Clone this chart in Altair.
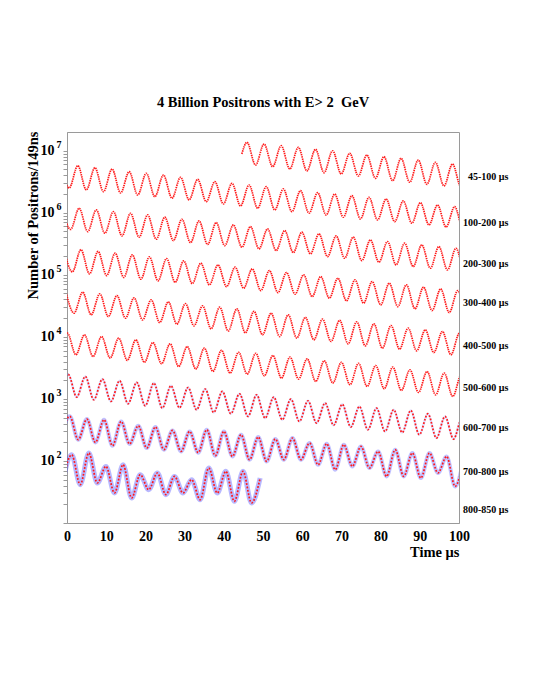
import altair as alt
import pandas as pd

# ---- data -----------------------------------------------------------------
PERIOD = 4.37  # spacing of successive maxima (μs)

row_names = ["45-100 μs", "100-200 μs", "200-300 μs", "300-400 μs", "400-500 μs",
             "500-600 μs", "600-700 μs", "700-800 μs", "800-850 μs"]

# time of the first listed maximum / minimum in each row (μs, folded into 0-100)
first_peak_t = [45.9, -1.62, -1.27, -0.82, -0.37, 0.08, 0.3, 0.7, 1.2]
first_trough_t = [48.1, 0.565, 0.915, 1.37, 1.8, -2.1, -1.9, -1.5, -1.0]

# log10(counts) at successive maxima of each row
peaks_log = [
    [7.135, 7.107, 7.080, 7.054, 7.022, 6.999, 6.958, 6.930, 6.903, 6.877, 6.850, 6.813, 6.785, 6.758],
    [6.785, 6.758, 6.726, 6.705, 6.661, 6.636, 6.608, 6.571, 6.539, 6.500, 6.475, 6.447, 6.420,
     6.383, 6.355, 6.323, 6.300, 6.275, 6.249, 6.222, 6.190, 6.162, 6.125, 6.098, 6.069],
    [6.101, 6.072, 6.045, 6.018, 5.992, 5.965, 5.928, 5.895, 5.868, 5.841, 5.804, 5.776, 5.739,
     5.712, 5.686, 5.659, 5.626, 5.606, 5.562, 5.535, 5.509, 5.482, 5.454, 5.428, 5.401],
    [5.430, 5.404, 5.377, 5.348, 5.321, 5.288, 5.261, 5.224, 5.187, 5.160, 5.123, 5.095, 5.068,
     5.036, 4.999, 4.971, 4.945, 4.918, 4.891, 4.865, 4.838, 4.801, 4.773, 4.746, 4.717],
    [4.749, 4.720, 4.693, 4.665, 4.628, 4.596, 4.564, 4.536, 4.499, 4.478, 4.451, 4.411, 4.382,
     4.355, 4.314, 4.285, 4.266, 4.242, 4.210, 4.182, 4.140, 4.113, 4.086, 4.060, 4.033],
    [4.060, 4.033, 4.005, 3.979, 3.952, 3.909, 3.888, 3.844, 3.818, 3.783, 3.751, 3.735, 3.699,
     3.674, 3.646, 3.614, 3.590, 3.574, 3.538, 3.513, 3.469, 3.442, 3.416, 3.389],
    [3.397, 3.361, 3.319, 3.292, 3.265, 3.255, 3.211, 3.184, 3.158, 3.120, 3.083, 3.066, 3.029,
     2.997, 2.970, 2.933, 2.913, 2.878, 2.852, 2.825, 2.814, 2.761, 2.717, 2.696],
    [2.720, 2.675, 2.664, 2.637, 2.567, 2.547, 2.492, 2.476, 2.503, 2.476, 2.423, 2.386, 2.353,
     2.370, 2.289, 2.278, 2.262, 2.234, 2.154, 2.181, 2.128, 2.128, 2.073, 2.052],
    [2.100, 2.128, 1.912, 1.939, 1.779, 1.806, 1.751, 1.698, 1.886, 1.832, 1.832, 1.725],
]

# log10(counts) at successive minima of each row
troughs_log = [
    [6.769, 6.742, 6.705, 6.673, 6.645, 6.624, 6.592, 6.555, 6.516, 6.491, 6.458, 6.431, 6.407],
    [6.399, 6.367, 6.339, 6.318, 6.286, 6.259, 6.233, 6.206, 6.178, 6.141, 6.109, 6.072, 6.045,
     6.017, 5.992, 5.964, 5.927, 5.900, 5.884, 5.856, 5.831, 5.803, 5.770, 5.731],
    [5.731, 5.696, 5.670, 5.626, 5.605, 5.573, 5.551, 5.518, 5.489, 5.470, 5.444, 5.417, 5.390,
     5.357, 5.337, 5.293, 5.267, 5.229, 5.203, 5.160, 5.132, 5.106, 5.079, 5.055],
    [5.047, 5.015, 4.987, 4.958, 4.929, 4.902, 4.878, 4.858, 4.838, 4.810, 4.784, 4.746, 4.713,
     4.688, 4.649, 4.623, 4.580, 4.543, 4.515, 4.488, 4.451, 4.424, 4.391, 4.371],
    [4.382, 4.355, 4.327, 4.301, 4.274, 4.231, 4.205, 4.177, 4.129, 4.094, 4.065, 4.033, 4.005,
     3.980, 3.952, 3.925, 3.888, 3.855, 3.818, 3.802, 3.775, 3.747, 3.711, 3.686],
    [3.735, 3.711, 3.683, 3.658, 3.622, 3.590, 3.566, 3.522, 3.480, 3.442, 3.416, 3.400, 3.372,
     3.335, 3.319, 3.281, 3.255, 3.228, 3.200, 3.163, 3.136, 3.104, 3.066, 3.039, 3.010],
    [3.050, 3.029, 2.986, 2.959, 2.922, 2.889, 2.852, 2.857, 2.825, 2.782, 2.761, 2.717, 2.691,
     2.664, 2.637, 2.611, 2.575, 2.546, 2.503, 2.475, 2.459, 2.423, 2.369, 2.353, 2.326],
    [2.374, 2.342, 2.299, 2.245, 2.273, 2.208, 2.181, 2.154, 2.133, 2.084, 2.073, 2.020, 1.993,
     2.020, 2.020, 1.939, 1.859, 1.912, 1.886, 1.751, 1.751, 1.725, 1.806, 1.590],
    [1.698, 1.618, 1.645, 1.484, 1.403, 1.537, 1.457, 1.484, 1.376, 1.484, 1.349, 1.323],
]

# first row starts part-way through the window
row0_start_t = 44.6
row0_start_log = 6.946

# rows that carry visible (blue) error bars, with bar size and strength
err_rows = [6, 7, 8]
err_width = [2.5, 4, 5]
err_opacity = [0.18, 0.35, 0.4]

# right-hand labels (log10 position of each)
label_log = [6.576, 5.836, 5.176, 4.548, 3.855, 3.179, 2.535, 1.827, 1.215]

decade_exps = ["2", "3", "4", "5", "6", "7"]
x_ticks = [0, 10, 20, 30, 40, 50, 60, 70, 80, 90, 100]

# ---- build tables -----------------------------------------------------------
recs = []
for r in range(len(row_names)):
    for k, v in enumerate(peaks_log[r]):
        recs.append({"row": r, "t": first_peak_t[r] + k * PERIOD, "n": 10 ** v})
    for k, v in enumerate(troughs_log[r]):
        recs.append({"row": r, "t": first_trough_t[r] + k * PERIOD, "n": 10 ** v})
recs.append({"row": 0, "t": row0_start_t, "n": 10 ** row0_start_log})
df = pd.DataFrame(recs).sort_values(["row", "t"])

err_recs = []
for r, w, o in zip(err_rows, err_width, err_opacity):
    sub = df[df.row == r]
    for _, s in sub.iterrows():
        err_recs.append({"row": r, "t": s.t, "n": s.n, "w": w, "o": o})
df_err = pd.DataFrame(err_recs)

df_lab = pd.DataFrame({"name": row_names, "n": [10 ** v for v in label_log]})
df_exp = pd.DataFrame({"e": decade_exps, "n": [10 ** int(e) for e in decade_exps]})

minor_vals = [m * 10 ** k for k in range(1, 7) for m in range(1, 10)] + [1e7]

FONT = "Liberation Serif"
RED = "#ff1a1a"
BLUE = "#4d4dff"
GRAY = "#9a9a9a"

xscale = alt.Scale(domain=[0, 100], nice=False)
yscale = alt.Scale(type="log", domain=[10, 2.0e7], nice=False)

xaxis = alt.Axis(values=x_ticks, tickSize=0, labelFont=FONT, labelFontSize=14,
                 labelFontWeight="bold", labelPadding=6, labelFlush=False, labelOverlap=False,
                 labelColor="black", domainColor=GRAY, grid=False, title="Time μs",
                 titleFont=FONT, titleFontSize=14.5, titleFontWeight="bold", titleX=392,
                 titleY=33, titleAlign="right", titleBaseline="alphabetic", titleColor="black")
yaxis = alt.Axis(values=minor_vals, tickSize=4, tickColor=GRAY, domainColor=GRAY, grid=False,
                 labelExpr="(datum.value >= 100 && abs(log(datum.value)/LN10 - round(log(datum.value)/LN10)) < 1e-6) ? '10' : ''",
                 labelFont=FONT, labelFontSize=14, labelFontWeight="bold", labelPadding=9,
                 labelOverlap=False, labelFlush=False, labelColor="black",
                 title="Number of Positrons/149ns", titleFont=FONT, titleFontSize=14.5,
                 titleFontWeight="bold", titleX=-34, titleY=83, titleAngle=270,
                 titleAlign="center", titleBaseline="middle", titleColor="black")

X = alt.X("t:Q", scale=xscale, axis=xaxis)
Y = alt.Y("n:Q", scale=yscale, axis=yaxis)

err = alt.Chart(df_err).mark_line(interpolate="monotone", clip=True, color=BLUE).encode(
    x=X, y=Y, detail="row:N",
    strokeWidth=alt.StrokeWidth("w:Q", scale=None),
    opacity=alt.Opacity("o:Q", scale=None))

smooth = alt.Chart(df).transform_filter("datum.row <= 5").mark_line(
    interpolate="monotone", clip=True, color=RED, strokeWidth=1.7, strokeDash=[1.4, 0.8]
).encode(x=X, y=Y, detail="row:N")

noisy = alt.Chart(df).transform_filter("datum.row >= 6").mark_line(
    interpolate="monotone", clip=True, color=RED, strokeWidth=1.7, strokeDash=[1.8, 1.6]
).encode(x=X, y=Y, detail="row:N")

labels = alt.Chart(df_lab).mark_text(align="right", baseline="middle", font=FONT, fontSize=10,
                                     fontWeight="bold", color="black").encode(
    x=alt.XDatum(112.6, type="quantitative", scale=xscale, axis=xaxis),
    y=alt.Y("n:Q", scale=yscale, axis=yaxis), text="name:N")

exps = alt.Chart(df_exp).mark_text(align="left", baseline="middle", font=FONT, fontSize=10,
                                   fontWeight="bold", dy=-6, color="black").encode(
    x=alt.XDatum(-2.7, type="quantitative", scale=xscale, axis=xaxis),
    y=alt.Y("n:Q", scale=yscale, axis=yaxis), text="e:N")

chart = alt.layer(err, smooth, noisy, labels, exps).properties(
    width=392, height=391,
    title=alt.TitleParams("4 Billion Positrons with E> 2\u00a0 GeV", font=FONT, fontSize=14.5,
                          fontWeight="bold", anchor="middle", offset=20, color="black"),
    autosize=alt.AutoSizeParams(type="none"),
    padding={"left": 59, "top": 124, "right": 70, "bottom": 160},
).configure_view(stroke=GRAY, strokeWidth=1).configure_axis(labelOverlap=False)

chart.save("out.html", embed_options={"renderer": "svg", "actions": False})
